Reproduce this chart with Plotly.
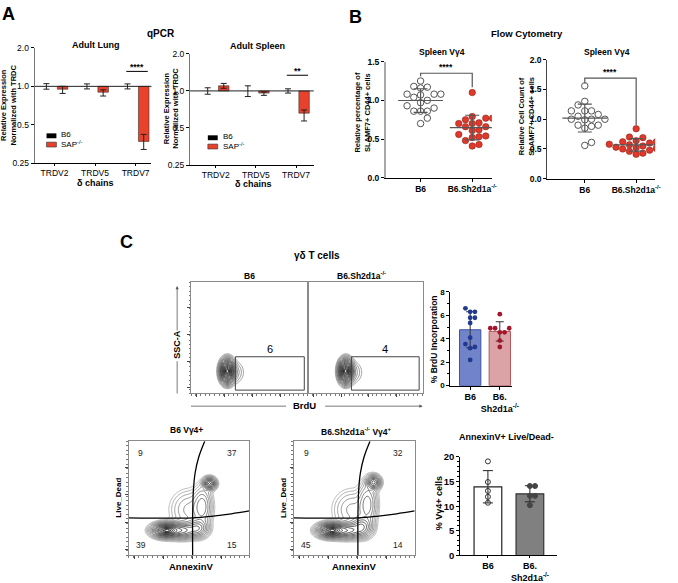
import numpy as np
import plotly.graph_objects as go

W, H = 678, 583
FONT = "Liberation Sans, Arial, Helvetica, sans-serif"

# ---------------- data ----------------
qpcr_genes = ["TRDV2", "TRDV5", "TRDV7"]
lung_b6 = [1.0, 1.0, 1.0]
lung_b6_err = [0.05, 0.045, 0.045]
lung_sap = [0.95, 0.90, 0.37]
lung_sap_hi = [1.00, 0.94, 0.42]
lung_sap_lo = [0.88, 0.84, 0.32]
spleen_b6 = [1.0, 1.0, 1.0]
spleen_b6_err = [0.06, 0.10, 0.04]
spleen_sap = [1.10, 0.96, 0.66]
spleen_sap_hi = [1.15, 0.98, 0.70]
spleen_sap_lo = [1.05, 0.92, 0.57]

flow_groups = ["B6", "B6.Sh2d1a<sup>-/-</sup>"]
pct_b6 = [1.25, 1.18, 1.17, 1.16, 1.08, 1.08, 1.08, 1.07, 1.04, 1.00, 0.97, 0.93,
          0.90, 0.86, 0.86, 0.86, 0.77, 0.70]
pct_ko = [1.10, 0.79, 0.77, 0.77, 0.75, 0.71, 0.70, 0.70, 0.66, 0.66, 0.62, 0.61,
          0.56, 0.54, 0.53, 0.52, 0.48, 0.43, 0.41]
cnt_b6 = [1.56, 1.30, 1.24, 1.14, 1.14, 1.14, 1.08, 1.05, 1.00, 1.00, 1.00, 0.99,
          0.90, 0.90, 0.88, 0.85, 0.61, 0.56]
cnt_ko = [0.84, 0.70, 0.69, 0.64, 0.62, 0.62, 0.60, 0.58, 0.57, 0.56, 0.55, 0.53,
          0.52, 0.51, 0.50, 0.48, 0.46, 0.43, 0.41]

bar_groups = ["B6", "B6.<br>Sh2d1a<sup>-/-</sup>"]
brdu_b6 = [6.6, 6.3, 6.3, 5.8, 5.8, 5.35, 4.1, 3.55, 3.3, 3.2, 2.2]
brdu_ko = [6.1, 4.9, 4.9, 4.9, 4.55, 4.55, 3.85, 3.3]
annexin_b6 = [19.1, 14.9, 13.1, 11.9, 10.7]
annexin_ko = [14.1, 14.1, 12.1, 12.1, 10.2]

brdu_gate_pct = ["6", "4"]
annexin_quads_b6 = ["9", "37", "39", "15"]
annexin_quads_ko = ["9", "32", "45", "14"]

# flow populations: [centre x, centre y, sd x, sd y, weight] in relative plot units
brdu_pops_b6 = [[0.31, 0.20, 0.030, 0.052, 1.0], [0.37, 0.19, 0.05, 0.06, 0.04]]
brdu_pops_ko = [[0.33, 0.20, 0.030, 0.052, 1.0], [0.39, 0.19, 0.05, 0.06, 0.04]]
annexin_pops_b6 = [[0.31, 0.22, 0.055, 0.030, 1.0], [0.44, 0.22, 0.065, 0.035, 0.45],
                   [0.57, 0.24, 0.045, 0.04, 0.28], [0.61, 0.43, 0.04, 0.09, 0.14],
                   [0.67, 0.63, 0.026, 0.026, 0.55], [0.50, 0.40, 0.08, 0.09, 0.06]]
annexin_pops_ko = [[0.31, 0.22, 0.055, 0.030, 1.0], [0.44, 0.22, 0.065, 0.035, 0.45],
                   [0.56, 0.25, 0.045, 0.045, 0.3], [0.61, 0.45, 0.04, 0.10, 0.14],
                   [0.66, 0.64, 0.028, 0.03, 0.45], [0.48, 0.40, 0.08, 0.09, 0.06]]
brdu_gate = [0.38, 0.97, 0.03, 0.33]
annexin_vline = ([0.53, 0.53, 0.535, 0.55, 0.58, 0.63], [0.0, 0.33, 0.55, 0.72, 0.86, 1.0])
annexin_hline = ([0.0, 0.53, 0.70, 0.85, 1.0], [0.33, 0.33, 0.345, 0.365, 0.39])


# ---------------- helpers ----------------
def X(px):
    return px / W


def Y(py):
    return 1 - py / H


def dx(a, b):
    return [X(a), X(b)]


def dy(top, bottom):
    return [Y(bottom), Y(top)]


def swarm(vals, ypx, xpx, d):
    order = sorted(range(len(vals)), key=lambda i: vals[i])
    placed, offs = [], [0.0] * len(vals)
    for i in order:
        yv = vals[i] * ypx
        k = 0
        while True:
            c = 0.0 if k == 0 else ((k + 1) // 2) * d * (1 if k % 2 else -1)
            if all((c - p) ** 2 + (yv - q) ** 2 >= (0.97 * d) ** 2 for p, q in placed):
                break
            k += 1
        placed.append((c, yv))
        offs[i] = c / xpx
    return offs


def flow_radius(pops):
    """pseudo-radius (Mahalanobis-like) of the population density, for ring contours"""
    g = np.linspace(0, 1, 140)
    gx, gy = np.meshgrid(g, g)
    z = np.zeros_like(gx)
    for cx, cy, sx, sy, w in pops:
        z += w * np.exp(-((gx - cx) ** 2 / (2 * sx ** 2) + (gy - cy) ** 2 / (2 * sy ** 2)))
    z = np.maximum(z / z.max(), 1e-9)
    return g, np.sqrt(-2 * np.log(z))


def txt(px, py, s, size=8, bold=True, angle=0, xanchor="center", color="black"):
    return dict(x=X(px), y=Y(py - 1), xref="paper", yref="paper", text=s, showarrow=False,
                textangle=angle, xanchor=xanchor, yanchor="middle",
                font=dict(size=size, family=FONT, color=color,
                          weight="bold" if bold else "normal"))


traces = []
annotations = []
shapes = []

# ---------------- panel A ----------------
for ax_id, b6, b6e, sap, hi, lo, sig, sig_y in [
    ("", lung_b6, lung_b6_err, lung_sap, lung_sap_hi, lung_sap_lo, "****", 1.31),
    ("2", spleen_b6, spleen_b6_err, spleen_sap, spleen_sap_hi, spleen_sap_lo, "**", 1.34),
]:
    xa, ya = "x" + ax_id, "y" + ax_id
    xs = list(range(len(qpcr_genes)))
    traces.append(go.Bar(x=[i - 0.2 for i in xs], y=[v - 1 for v in b6], base=1, width=0.26,
                         marker=dict(color="black"), xaxis=xa, yaxis=ya))
    traces.append(go.Bar(x=[i + 0.2 for i in xs], y=[v - 1 for v in sap], base=1, width=0.26,
                         marker=dict(color="#e8412c", line=dict(color="#333", width=0.6)),
                         xaxis=xa, yaxis=ya))
    traces.append(go.Scatter(x=[i - 0.2 for i in xs], y=b6, mode="markers",
                             marker=dict(size=1, color="rgba(0,0,0,0)"),
                             error_y=dict(type="data", array=[v * e for v, e in zip(b6, b6e)],
                                          color="#222", thickness=1, width=3),
                             xaxis=xa, yaxis=ya))
    traces.append(go.Scatter(x=[i + 0.2 for i in xs], y=sap, mode="markers",
                             marker=dict(size=1, color="rgba(0,0,0,0)"),
                             error_y=dict(type="data", symmetric=False,
                                          array=[h - v for h, v in zip(hi, sap)],
                                          arrayminus=[v - l for v, l in zip(sap, lo)],
                                          color="#222", thickness=1, width=3),
                             xaxis=xa, yaxis=ya))
    traces.append(go.Scatter(x=[-1, 3], y=[1, 1], mode="lines", line=dict(color="#222", width=1),
                             xaxis=xa, yaxis=ya))
    traces.append(go.Scatter(x=[1.77, 2.3], y=[sig_y, sig_y], mode="lines",
                             line=dict(color="black", width=1), xaxis=xa, yaxis=ya))
    annotations.append(dict(x=2.03, y=np.log10(sig_y), xref=xa, yref=ya, text=sig,
                            showarrow=False, yanchor="bottom", yshift=-3,
                            font=dict(size=8.5, family=FONT, weight="bold")))

# legends for A (drawn)
for lx, ly in [(47, 133), (210, 135)]:
    shapes.append(dict(type="rect", xref="paper", yref="paper", x0=X(lx), x1=X(lx + 10),
                       y0=Y(ly + 2.5), y1=Y(ly - 2.5), fillcolor="black", line=dict(width=0)))
    shapes.append(dict(type="rect", xref="paper", yref="paper", x0=X(lx), x1=X(lx + 10),
                       y0=Y(ly + 11.5), y1=Y(ly + 6.5), fillcolor="#e8412c",
                       line=dict(color="#333", width=0.6)))
    annotations.append(txt(lx + 13, ly, "B6", 8, False, xanchor="left"))
    annotations.append(txt(lx + 13, ly + 9, "SAP<sup>-/-</sup>", 8, False, xanchor="left"))

# ---------------- panel B ----------------
for ax_id, b6, ko, ypx, br in [
    ("3", pct_b6, pct_ko, 119 / 1.5, (1.35, 1.31, 1.17)),
    ("4", cnt_b6, cnt_ko, 122 / 2.0, (1.69, 1.60, 0.90)),
]:
    xa, ya = "x" + ax_id, "y" + ax_id
    ob = swarm(b6, ypx, 52, 6.8)
    ok = swarm(ko, ypx, 52, 6.8)
    for vals, offs, g, sym, col, lc in [
        (b6, ob, 0, "circle-open", "#555", "#555"),
        (ko, ok, 1, "circle", "#e0382a", "#7a1a10"),
    ]:
        m, s = float(np.mean(vals)), float(np.std(vals, ddof=1))
        traces.append(go.Scatter(x=[g + o for o in offs], y=vals, mode="markers",
                                 marker=dict(symbol=sym, size=6.5, color=col,
                                             line=dict(color=lc, width=1 if g == 0 else 0.5)),
                                 xaxis=xa, yaxis=ya))
        traces.append(go.Scatter(x=[g], y=[m], mode="markers",
                                 marker=dict(symbol="line-ew", size=32,
                                             line=dict(color="#555", width=1.2)),
                                 error_y=dict(type="data", array=[s], color="#555",
                                              thickness=1.2, width=7),
                                 xaxis=xa, yaxis=ya))
    traces.append(go.Scatter(x=[0, 0, 1, 1], y=[br[1], br[0], br[0], br[2]], mode="lines",
                             line=dict(color="#555", width=1.2), xaxis=xa, yaxis=ya))
    annotations.append(dict(x=0.5, y=br[0], xref=xa, yref=ya, text="****", showarrow=False,
                            yanchor="bottom", yshift=-1,
                            font=dict(size=8.5, family=FONT, weight="bold")))

# ---------------- panel C: BrdU flow ----------------
for ax_id, pops, pct in [("5", brdu_pops_b6, brdu_gate_pct[0]), ("6", brdu_pops_ko, brdu_gate_pct[1])]:
    xa, ya = "x" + ax_id, "y" + ax_id
    g, r = flow_radius(pops)
    traces.append(go.Contour(x=g, y=g, z=r, showscale=False, hoverinfo="skip",
                             contours=dict(coloring="lines", start=0.3, end=3.0, size=0.18),
                             colorscale=[[0, "#000000"], [0.6, "#2a2a2a"], [1, "#8a8a8a"]],
                             zmin=0, zmax=3.0, line=dict(width=0.85), xaxis=xa, yaxis=ya))
    x0, x1, y0, y1 = brdu_gate
    traces.append(go.Scatter(x=[x0, x1, x1, x0, x0], y=[y0, y0, y1, y1, y0], mode="lines",
                             line=dict(color="#444", width=1), xaxis=xa, yaxis=ya))
    annotations.append(dict(x=(x0 + x1) / 2, y=y1, xref=xa, yref=ya, text=pct, showarrow=False,
                            yanchor="bottom", font=dict(size=11, family=FONT)))

# ---------------- panel C: BrdU bars ----------------
for g, vals, fill, edge, dot in [
    (0, brdu_b6, "#7183c9", "#3f51a5", "#1f3a8f"),
    (1, brdu_ko, "#dba3a6", "#b0565f", "#a3162b"),
]:
    m, s = float(np.mean(vals)), float(np.std(vals, ddof=1))
    traces.append(go.Bar(x=[g], y=[m], width=0.72, marker=dict(color=fill, line=dict(color=edge, width=1)),
                         error_y=dict(type="data", array=[s], color="#333", thickness=1, width=4),
                         xaxis="x7", yaxis="y7"))
    offs = swarm(vals, 12, 30, 4.8)
    traces.append(go.Scatter(x=[g + o for o in offs], y=vals, mode="markers",
                             marker=dict(size=4.8, color=dot), xaxis="x7", yaxis="y7"))

# ---------------- panel C: AnnexinV flow ----------------
for ax_id, pops, quads in [("8", annexin_pops_b6, annexin_quads_b6), ("9", annexin_pops_ko, annexin_quads_ko)]:
    xa, ya = "x" + ax_id, "y" + ax_id
    g, r = flow_radius(pops)
    traces.append(go.Contour(x=g, y=g, z=r, showscale=False, hoverinfo="skip",
                             contours=dict(coloring="lines", start=0.3, end=3.3, size=0.18),
                             colorscale=[[0, "#000000"], [0.5, "#333333"], [1, "#a8a8a8"]],
                             zmin=0, zmax=3.3, line=dict(width=0.8), xaxis=xa, yaxis=ya))
    traces.append(go.Scatter(x=annexin_vline[0], y=annexin_vline[1], mode="lines",
                             line=dict(color="black", width=1.3, shape="spline"), xaxis=xa, yaxis=ya))
    traces.append(go.Scatter(x=annexin_hline[0], y=annexin_hline[1], mode="lines",
                             line=dict(color="black", width=1.3, shape="spline"), xaxis=xa, yaxis=ya))
    for (qx, qy), q in zip([(0.1, 0.9), (0.86, 0.9), (0.1, 0.09), (0.86, 0.09)], quads):
        annotations.append(dict(x=qx, y=qy, xref=xa, yref=ya, text=q, showarrow=False,
                                font=dict(size=8.5, family=FONT, color="#222")))

# ---------------- panel C: AnnexinV bars ----------------
for g, vals, fill, edge, sym, dot in [
    (0, annexin_b6, "white", "#222", "circle-open", "#333"),
    (1, annexin_ko, "#808080", "#333", "circle", "#444"),
]:
    m, s = float(np.mean(vals)), float(np.std(vals, ddof=1))
    traces.append(go.Bar(x=[g], y=[m], width=0.66, marker=dict(color=fill, line=dict(color=edge, width=1.2)),
                         error_y=dict(type="data", array=[s], color="#222", thickness=1, width=5),
                         xaxis="x10", yaxis="y10"))
    offs = swarm(vals, 5.02, 42.5, 5.2)
    traces.append(go.Scatter(x=[g + o for o in offs], y=vals, mode="markers",
                             marker=dict(symbol=sym, size=5, color=dot, line=dict(color=dot, width=1)),
                             xaxis="x10", yaxis="y10"))
traces.append(go.Scatter(x=[0, 0, 0, 1, 1, 1], y=[20.5, 21.5, 21, 21, 21.5, 20.5], mode="lines",
                         line=dict(color="#222", width=1), cliponaxis=False,
                         xaxis="x10", yaxis="y10"))
annotations.append(dict(x=0.5, y=21, xref="x10", yref="y10", text="ns", showarrow=False,
                        yanchor="bottom", yshift=-2, font=dict(size=9.5, family=FONT)))

# ---------------- axes ----------------
base = dict(showgrid=False, zeroline=False, showline=True, linecolor="black", linewidth=1,
            ticks="outside", ticklen=3, tickwidth=1, tickcolor="black",
            tickfont=dict(size=8.5, family=FONT))
bold_tf = dict(size=8.5, family=FONT, weight="bold")

layout = dict(width=W, height=H, margin=dict(l=0, r=0, t=0, b=0), paper_bgcolor="white",
              plot_bgcolor="white", showlegend=False, barmode="overlay",
              font=dict(family=FONT, color="black"))

log_ticks = dict(type="log", range=[np.log10(0.25), np.log10(2.0)], tickvals=[0.25, 0.5, 1, 2],
                 ticktext=["0.25", "0.5", "1.0", "2.0"])
layout["xaxis"] = dict(base, domain=dx(35, 153), range=[-0.49, 2.39], tickvals=[0, 1, 2],
                       ticktext=qpcr_genes, anchor="y", ticklen=2)
layout["yaxis"] = dict(base, domain=dy(43, 161), anchor="x", linecolor="#777", **log_ticks)
layout["xaxis2"] = dict(base, domain=dx(192, 317), range=[-0.64, 2.44], tickvals=[0, 1, 2],
                        ticktext=qpcr_genes, anchor="y2", ticklen=2)
layout["yaxis2"] = dict(base, domain=dy(49, 163), anchor="x2", linecolor="#777", **log_ticks)

layout["xaxis3"] = dict(base, domain=dx(390, 497), range=[-0.67, 1.38], tickvals=[0, 1],
                        ticktext=flow_groups, anchor="y3", tickfont=bold_tf)
layout["yaxis3"] = dict(base, domain=dy(57, 176), range=[0, 1.5], tickvals=[0, 0.5, 1, 1.5],
                        ticktext=["0.0", "0.5", "1.0", "1.5"], anchor="x3", tickfont=bold_tf,
                        linecolor="#a8a8a8", linewidth=2)
layout["xaxis4"] = dict(base, domain=dx(553, 662), range=[-0.73, 1.37], tickvals=[0, 1],
                        ticktext=flow_groups, anchor="y4", tickfont=bold_tf)
layout["yaxis4"] = dict(base, domain=dy(55, 177), range=[0, 2.0], tickvals=[0, 0.5, 1, 1.5, 2],
                        ticktext=["0.0", "0.5", "1.0", "1.5", "2.0"], anchor="x4",
                        tickfont=bold_tf, linecolor="#444")

flow = dict(range=[0, 1], showgrid=False, zeroline=False, showline=True, mirror=True,
            linecolor="#8a8a8a", linewidth=1, showticklabels=False, ticks="outside",
            ticklen=3, tickwidth=1, tickcolor="#444", tick0=0.05, dtick=0.24,
            minor=dict(ticks="outside", ticklen=1.5, dtick=0.04, tickcolor="#777"))
layout["xaxis5"] = dict(flow, domain=dx(193, 311), anchor="y5")
layout["yaxis5"] = dict(flow, domain=dy(283, 397), anchor="x5")
layout["xaxis6"] = dict(flow, domain=dx(311, 427), anchor="y6")
layout["yaxis6"] = dict(flow, domain=dy(283, 397), anchor="x6", ticks="",
                        minor=dict(ticks=""))
layout["xaxis7"] = dict(base, domain=dx(455, 517), range=[-0.67, 1.4], tickvals=[0, 1],
                        ticktext=bar_groups, anchor="y7", tickfont=dict(size=9, family=FONT, weight="bold"))
layout["yaxis7"] = dict(base, domain=dy(293, 389), range=[0, 8], dtick=2, anchor="x7",
                        tickfont=dict(size=8, family=FONT, weight="bold"),
                        minor=dict(ticks="outside", ticklen=2, dtick=1))
layout["xaxis8"] = dict(flow, domain=dx(130, 252), anchor="y8")
layout["yaxis8"] = dict(flow, domain=dy(446, 563), anchor="x8")
layout["xaxis9"] = dict(flow, domain=dx(297, 419), anchor="y9")
layout["yaxis9"] = dict(flow, domain=dy(446, 563), anchor="x9")
layout["xaxis10"] = dict(base, domain=dx(465, 563), range=[-0.66, 1.65], tickvals=[0, 1],
                         ticktext=bar_groups, anchor="y10", ticklen=2,
                         tickfont=dict(size=9, family=FONT, weight="bold"))
layout["yaxis10"] = dict(base, domain=dy(462, 563), range=[0, 20], dtick=5, anchor="x10",
                         tickfont=dict(size=9.5, family=FONT, weight="bold"),
                         minor=dict(ticks="outside", ticklen=2, dtick=1))

# ---------------- text ----------------
annotations += [
    txt(9, 9, "A", 18), txt(359, 12, "B", 18), txt(128, 243, "C", 18),
    txt(163, 29, "qPCR", 10), txt(532, 29, "Flow Cytometry", 9.5), txt(320, 257, "γδ T cells", 10),
    txt(97, 41, "Adult Lung", 9), txt(260, 42, "Adult Spleen", 9),
    txt(447, 48, "Spleen Vγ4", 8.5), txt(613, 48, "Spleen Vγ4", 8.5),
    txt(9, 102, "Relative Expression<br>Normalized with TRDC", 7.5, angle=-90),
    txt(173, 106, "Relative Expression<br>Normalized with TRDC", 7.5, angle=-90),
    txt(96, 182, "δ chains", 9), txt(256, 183, "δ chains", 9),
    txt(366, 110, "Relative percentage of<br>SLAMF7+ CD44+ cells", 7.5, angle=-90),
    txt(532, 114, "Relative Cell Count of<br>SLAMF7+ CD44+ cells", 7.5, angle=-90),
    txt(252, 278, "B6", 8.5), txt(365, 277, "B6.Sh2d1a<sup>-/-</sup>", 8.5),
    txt(179, 348, "SSC-A", 9, angle=-90), txt(308, 410, "BrdU", 9.5),
    txt(438, 342, "% BrdU Incorporation", 8.5, angle=-90),
    txt(188, 435, "B6 Vγ4+", 8.5), txt(360, 437, "B6.Sh2d1a<sup>-/-</sup> Vγ4<sup>+</sup>", 8.5),
    txt(120, 505, "Live_Dead", 8, angle=-90), txt(287, 505, "Live_Dead", 8, angle=-90),
    txt(193, 575, "AnnexinV", 9.5), txt(358, 575, "AnnexinV", 9.5),
    txt(512, 443, "AnnexinV+ Live/Dead-", 9),
    txt(443, 510, "% Vγ4+ cells", 9, angle=-90),
]
# axis arrows for SSC-A / BrdU
shapes += [
    dict(type="line", xref="paper", yref="paper", x0=X(179), x1=X(179), y0=Y(397), y1=Y(364),
         line=dict(color="#555", width=0.8)),
    dict(type="line", xref="paper", yref="paper", x0=X(193), x1=X(289), y0=Y(410), y1=Y(410),
         line=dict(color="#555", width=0.8)),
]
annotations += [
    dict(x=X(179), y=Y(287), xref="paper", yref="paper", text="", showarrow=True, ax=0, ay=46,
         arrowhead=2, arrowsize=0.8, arrowwidth=0.8, arrowcolor="#555"),
    dict(x=X(427), y=Y(410), xref="paper", yref="paper", text="", showarrow=True, ax=-99, ay=0,
         arrowhead=2, arrowsize=0.8, arrowwidth=0.8, arrowcolor="#555"),
]

layout["annotations"] = annotations
layout["shapes"] = shapes
fig = go.Figure(data=traces, layout=layout)
fig.write_html("out.html", config={"displayModeBar": False},
               post_script="document.body.style.margin='0px';")
